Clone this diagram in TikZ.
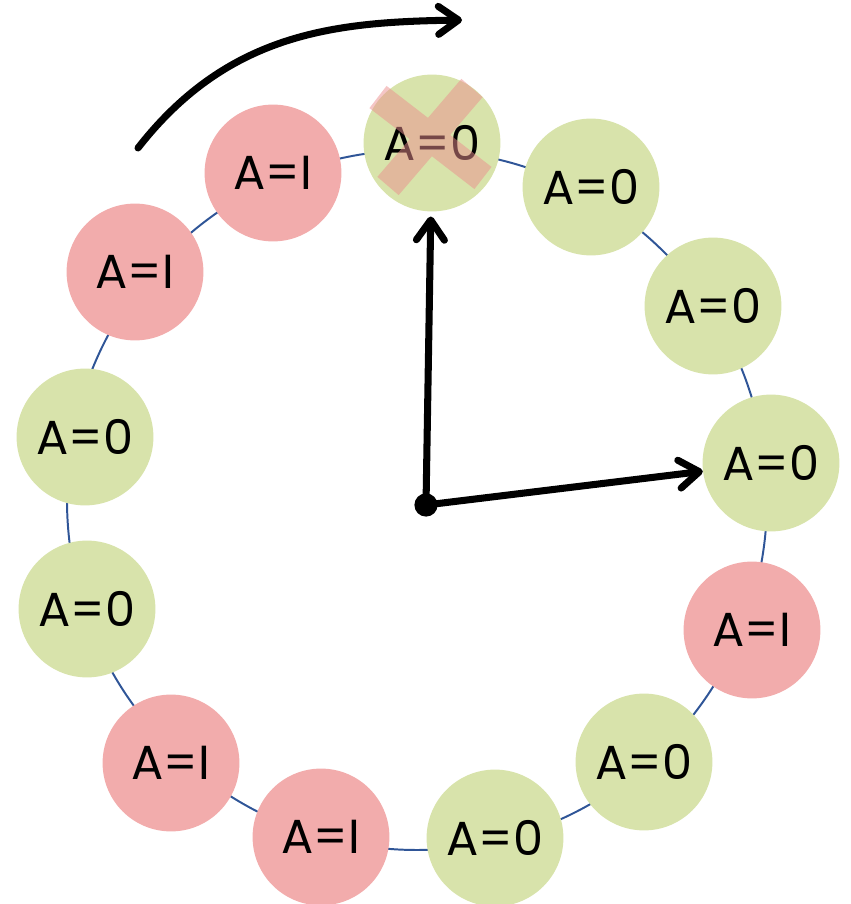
\documentclass[tikz,border=0pt]{standalone}
\usepackage{fontspec}
\setmainfont{Poppins}
\usetikzlibrary{arrows.meta}
\definecolor{zerofill}{RGB}{216,227,171}
\definecolor{onefill}{RGB}{242,172,172}
\definecolor{ringline}{RGB}{47,85,151}
\definecolor{crossmark}{RGB}{235,142,142}
\tikzstyle{zero} = [circle, fill=zerofill, minimum size=3.42cm, inner sep=0pt,
    font=\fontsize{34}{34}\selectfont]
\tikzstyle{one} = [zero, fill=onefill]
\tikzstyle{pointer} = [line width=5pt, line cap=round, line join=round,
    -{Straight Barb[length=0.5cm, width=0.7cm, line cap=round, line join=round]}]

\begin{document}
\begin{tikzpicture}[x=0.025cm, y=0.025cm]
    \useasboundingbox (0,0) rectangle (851,904);
    \draw[ringline, line width=1.4pt] (417,404) circle[radius=350];

    \foreach \kind/\val/\x/\y [count=\i] in {zero/0/432/761, zero/0/591/717, zero/0/713/598,
            zero/0/771/441, one/I/752/274, zero/0/644/142, zero/0/495/66, one/I/321/67,
            one/I/171/141, zero/0/87/295, zero/0/85/467, one/I/135/632, one/I/273/731}
        \node[\kind] (n\i) at (\x,\y) {A=\val};

    \coordinate (xa) at (378,807);
    \coordinate (xb) at (483,726);
    \coordinate (xc) at (472,816);
    \coordinate (xd) at (388,718);
    \draw[crossmark, draw opacity=0.5, line width=0.7cm] (xa) -- (xb) (xc) -- (xd);

    \node[circle, fill=black, inner sep=0pt, minimum size=0.58cm] (ctr) at (426,399) {};
    \draw[pointer, shorten >=0.12cm] (ctr.center) -- (n1);
    \draw[pointer] (ctr.center) -- (n4);

    \coordinate (sweepstart) at (138,756);
    \coordinate (sweepend) at (462,884);
    \draw[pointer] (sweepstart) .. controls (230,874) and (340,882) .. (sweepend);
\end{tikzpicture}
\end{document}
